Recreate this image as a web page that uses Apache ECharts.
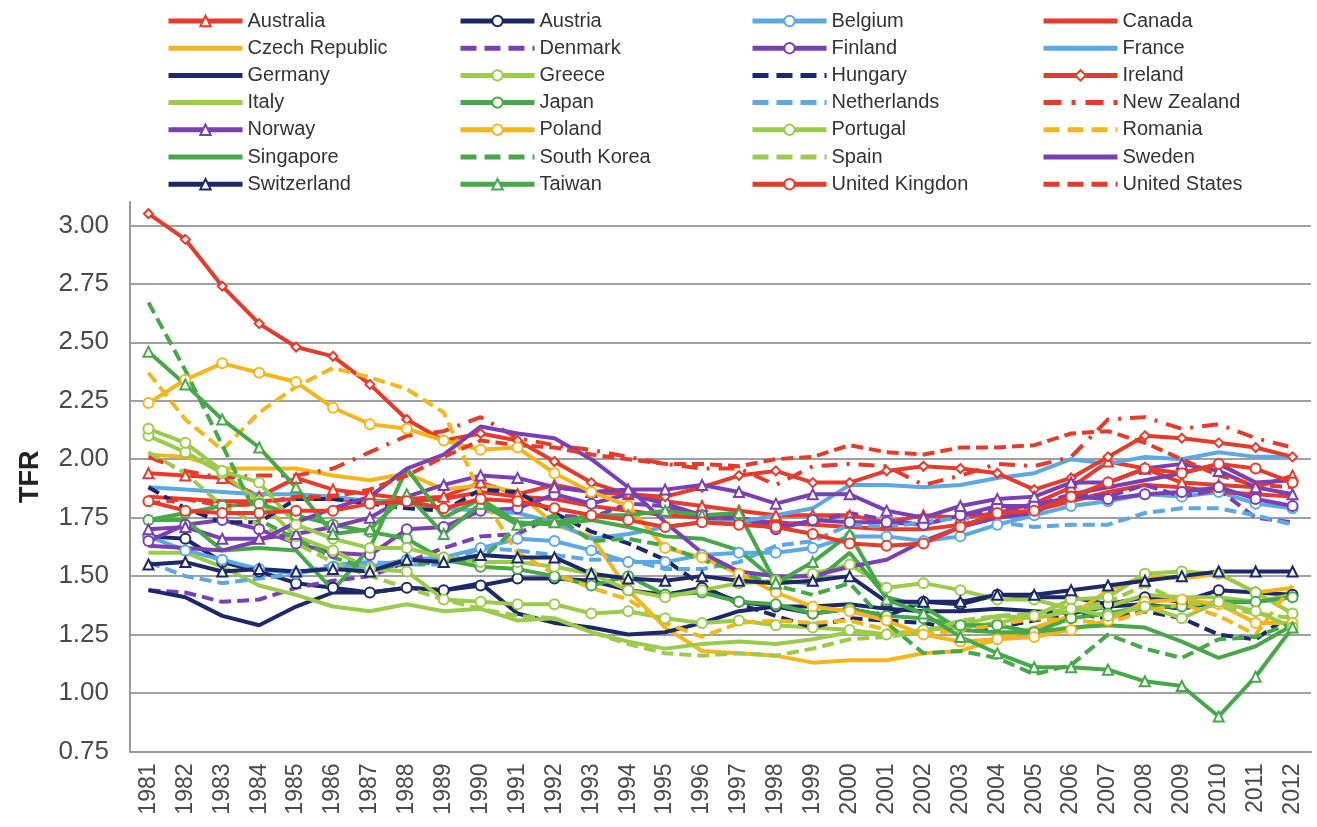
<!DOCTYPE html>
<html><head><meta charset="utf-8">
<script src="https://cdn.jsdelivr.net/npm/echarts@6/dist/echarts.min.js"></script>
<style>html,body{margin:0;padding:0;background:#fff}#c{width:1317px;height:827px}</style>
</head><body><div id="c"></div>
<script>
const years = ['1981','1982','1983','1984','1985','1986','1987','1988','1989','1990','1991','1992','1993','1994','1995','1996','1997','1998','1999','2000','2001','2002','2003','2004','2005','2006','2007','2008','2009','2010','2011','2012'];
const yTicks = [0.75,1.00,1.25,1.50,1.75,2.00,2.25,2.50,2.75,3.00];

const australia = [1.94,1.93,1.92,1.84,1.92,1.87,1.85,1.83,1.84,1.90,1.85,1.89,1.86,1.85,1.82,1.80,1.78,1.76,1.76,1.76,1.73,1.76,1.75,1.77,1.81,1.88,1.99,1.96,1.90,1.89,1.88,1.93];
const austria = [1.67,1.66,1.56,1.52,1.47,1.45,1.43,1.45,1.44,1.46,1.49,1.49,1.48,1.44,1.42,1.45,1.39,1.37,1.34,1.36,1.33,1.39,1.38,1.42,1.41,1.41,1.38,1.41,1.39,1.44,1.43,1.42];
const belgium = [1.67,1.61,1.57,1.53,1.51,1.54,1.54,1.57,1.58,1.62,1.66,1.65,1.61,1.56,1.56,1.59,1.60,1.60,1.62,1.67,1.67,1.65,1.67,1.72,1.76,1.80,1.82,1.85,1.84,1.86,1.81,1.79];
const canada = [1.84,1.83,1.82,1.82,1.83,1.83,1.82,1.82,1.83,1.86,1.84,1.83,1.80,1.78,1.76,1.75,1.74,1.73,1.72,1.71,1.70,1.70,1.72,1.75,1.78,1.82,1.86,1.89,1.88,1.86,1.85,1.84];
const czech = [2.02,2.01,1.96,1.96,1.96,1.93,1.91,1.94,1.87,1.89,1.86,1.72,1.67,1.44,1.28,1.18,1.17,1.16,1.13,1.14,1.14,1.17,1.18,1.23,1.28,1.33,1.44,1.50,1.49,1.51,1.43,1.45];
const denmark = [1.44,1.43,1.39,1.40,1.45,1.48,1.50,1.56,1.62,1.67,1.68,1.76,1.75,1.81,1.80,1.75,1.75,1.72,1.73,1.77,1.74,1.72,1.76,1.78,1.80,1.85,1.84,1.89,1.84,1.87,1.75,1.73];
const finland = [1.65,1.72,1.74,1.70,1.64,1.60,1.59,1.70,1.71,1.78,1.79,1.85,1.81,1.85,1.81,1.76,1.75,1.70,1.74,1.73,1.73,1.72,1.76,1.80,1.80,1.84,1.83,1.85,1.86,1.88,1.83,1.80];
const france = [1.88,1.87,1.86,1.85,1.85,1.84,1.82,1.81,1.79,1.78,1.77,1.73,1.66,1.68,1.71,1.73,1.73,1.76,1.79,1.89,1.89,1.88,1.89,1.92,1.94,2.00,1.98,2.01,2.00,2.03,2.01,2.01];
const germany = [1.44,1.41,1.33,1.29,1.37,1.43,1.43,1.45,1.44,1.47,1.34,1.30,1.28,1.25,1.26,1.30,1.35,1.37,1.37,1.38,1.36,1.35,1.35,1.36,1.35,1.34,1.37,1.38,1.36,1.39,1.39,1.41];
const greece = [2.10,2.03,1.94,1.82,1.67,1.61,1.53,1.52,1.40,1.39,1.38,1.38,1.34,1.35,1.32,1.30,1.31,1.29,1.28,1.27,1.25,1.27,1.28,1.30,1.33,1.40,1.41,1.51,1.52,1.51,1.43,1.34];
const hungary = [1.88,1.79,1.73,1.73,1.83,1.83,1.81,1.79,1.78,1.87,1.86,1.77,1.69,1.64,1.57,1.46,1.38,1.33,1.28,1.32,1.31,1.30,1.27,1.28,1.31,1.34,1.32,1.35,1.32,1.25,1.23,1.34];
const ireland = [3.05,2.94,2.74,2.58,2.48,2.44,2.32,2.17,2.08,2.11,2.08,1.99,1.90,1.85,1.84,1.88,1.93,1.95,1.90,1.90,1.95,1.97,1.96,1.94,1.87,1.92,2.01,2.10,2.09,2.07,2.05,2.01];
const italy = [1.60,1.60,1.54,1.46,1.42,1.37,1.35,1.38,1.35,1.36,1.31,1.32,1.26,1.22,1.19,1.21,1.22,1.21,1.23,1.26,1.25,1.27,1.29,1.33,1.32,1.35,1.37,1.42,1.41,1.41,1.39,1.42];
const japan = [1.74,1.77,1.80,1.81,1.76,1.72,1.69,1.66,1.57,1.54,1.53,1.50,1.46,1.50,1.42,1.43,1.39,1.38,1.34,1.36,1.33,1.32,1.29,1.29,1.26,1.32,1.34,1.37,1.37,1.39,1.39,1.41];
const netherlands = [1.56,1.50,1.47,1.49,1.51,1.55,1.56,1.55,1.55,1.62,1.61,1.59,1.57,1.57,1.53,1.53,1.56,1.63,1.65,1.72,1.71,1.73,1.75,1.73,1.71,1.72,1.72,1.77,1.79,1.79,1.76,1.72];
const newZealand = [2.01,1.95,1.92,1.93,1.93,1.96,2.03,2.10,2.12,2.18,2.09,2.06,2.04,2.01,1.98,1.96,1.96,1.89,1.97,1.98,1.97,1.89,1.93,1.98,1.97,2.01,2.17,2.18,2.13,2.15,2.09,2.05];
const norway = [1.70,1.71,1.66,1.66,1.68,1.71,1.75,1.84,1.89,1.93,1.92,1.88,1.86,1.87,1.87,1.89,1.86,1.81,1.85,1.85,1.78,1.75,1.80,1.83,1.84,1.90,1.90,1.96,1.98,1.95,1.88,1.85];
const poland = [2.24,2.34,2.41,2.37,2.33,2.22,2.15,2.13,2.08,2.04,2.05,1.94,1.86,1.80,1.62,1.58,1.51,1.43,1.37,1.35,1.31,1.25,1.22,1.23,1.24,1.27,1.31,1.39,1.40,1.38,1.30,1.30];
const portugal = [2.13,2.07,1.95,1.90,1.72,1.66,1.62,1.62,1.58,1.56,1.56,1.54,1.51,1.44,1.41,1.44,1.47,1.48,1.51,1.55,1.45,1.47,1.44,1.40,1.40,1.36,1.33,1.37,1.32,1.39,1.35,1.28];
const romania = [2.37,2.17,2.04,2.20,2.31,2.39,2.35,2.30,2.20,1.85,1.60,1.51,1.45,1.40,1.30,1.24,1.30,1.31,1.30,1.31,1.27,1.25,1.27,1.29,1.32,1.31,1.30,1.35,1.38,1.33,1.25,1.46];
const singapore = [1.74,1.74,1.61,1.62,1.61,1.44,1.62,1.96,1.75,1.83,1.73,1.72,1.74,1.71,1.67,1.66,1.61,1.48,1.47,1.60,1.41,1.37,1.27,1.26,1.26,1.28,1.29,1.28,1.22,1.15,1.20,1.29];
const southKorea = [2.67,2.38,2.06,1.74,1.66,1.58,1.53,1.55,1.56,1.57,1.71,1.76,1.65,1.66,1.63,1.57,1.52,1.46,1.42,1.47,1.30,1.17,1.18,1.15,1.08,1.12,1.25,1.19,1.15,1.23,1.24,1.30];
const spain = [2.03,1.94,1.80,1.72,1.64,1.56,1.50,1.45,1.40,1.36,1.33,1.32,1.26,1.21,1.17,1.16,1.17,1.16,1.19,1.23,1.24,1.26,1.31,1.33,1.34,1.36,1.39,1.46,1.39,1.37,1.34,1.32];
const sweden = [1.63,1.62,1.61,1.65,1.73,1.79,1.84,1.96,2.02,2.14,2.11,2.09,2.00,1.88,1.73,1.60,1.52,1.50,1.50,1.54,1.57,1.65,1.71,1.75,1.77,1.85,1.88,1.91,1.94,1.98,1.90,1.91];
const switzerland = [1.55,1.56,1.52,1.53,1.52,1.53,1.52,1.57,1.56,1.59,1.58,1.58,1.51,1.49,1.48,1.50,1.48,1.47,1.48,1.50,1.39,1.39,1.39,1.42,1.42,1.44,1.46,1.48,1.50,1.52,1.52,1.52];
const taiwan = [2.46,2.32,2.17,2.05,1.88,1.68,1.70,1.85,1.68,1.81,1.72,1.73,1.76,1.76,1.78,1.76,1.77,1.47,1.56,1.68,1.40,1.34,1.24,1.17,1.11,1.11,1.10,1.05,1.03,0.90,1.07,1.28];
const unitedKingdom = [1.82,1.78,1.77,1.77,1.78,1.78,1.81,1.82,1.79,1.83,1.82,1.79,1.76,1.74,1.71,1.73,1.72,1.71,1.68,1.64,1.63,1.64,1.71,1.77,1.78,1.84,1.90,1.96,1.94,1.98,1.96,1.90];
const unitedStates = [1.81,1.83,1.80,1.81,1.84,1.84,1.87,1.93,2.01,2.08,2.06,2.05,2.02,2.00,1.98,1.98,1.97,2.00,2.01,2.06,2.03,2.02,2.05,2.05,2.06,2.11,2.12,2.07,2.00,1.93,1.89,1.88];

const C = {red:'#E63B2B', navy:'#1D2868', lblue:'#5BA8E3', yellow:'#F4B61C', purple:'#7A3FB3', lgreen:'#9CCB4B', green:'#47A84A'};
const DASH = [12,6], DASHDOT = [16,9,3,9];
const LEG_DASH = [16,8], LEG_DASHDOT = [18,10,4,10];

const defs = [
  ['Australia', australia, 'red', 'solid', 'triangle'],
  ['Austria', austria, 'navy', 'solid', 'circle'],
  ['Belgium', belgium, 'lblue', 'solid', 'circle'],
  ['Canada', canada, 'red', 'solid', 'none'],
  ['Czech Republic', czech, 'yellow', 'solid', 'none'],
  ['Denmark', denmark, 'purple', 'dash', 'none'],
  ['Finland', finland, 'purple', 'solid', 'circle'],
  ['France', france, 'lblue', 'solid', 'none'],
  ['Germany', germany, 'navy', 'solid', 'none'],
  ['Greece', greece, 'lgreen', 'solid', 'circle'],
  ['Hungary', hungary, 'navy', 'dash', 'none'],
  ['Ireland', ireland, 'red', 'solid', 'diamond'],
  ['Italy', italy, 'lgreen', 'solid', 'none'],
  ['Japan', japan, 'green', 'solid', 'circle'],
  ['Netherlands', netherlands, 'lblue', 'dash', 'none'],
  ['New Zealand', newZealand, 'red', 'dashdot', 'none'],
  ['Norway', norway, 'purple', 'solid', 'triangle'],
  ['Poland', poland, 'yellow', 'solid', 'circle'],
  ['Portugal', portugal, 'lgreen', 'solid', 'circle'],
  ['Romania', romania, 'yellow', 'dash', 'none'],
  ['Singapore', singapore, 'green', 'solid', 'none'],
  ['South Korea', southKorea, 'green', 'dash', 'none'],
  ['Spain', spain, 'lgreen', 'dash', 'none'],
  ['Sweden', sweden, 'purple', 'solid', 'none'],
  ['Switzerland', switzerland, 'navy', 'solid', 'triangle'],
  ['Taiwan', taiwan, 'green', 'solid', 'triangle'],
  ['United Kingdon', unitedKingdom, 'red', 'solid', 'circle'],
  ['United States', unitedStates, 'red', 'dash', 'none']
];

const series = defs.map(([name, data, col, dash, sym]) => ({
  name, type: 'line', data,
  symbol: sym,
  symbolSize: sym === 'diamond' ? 9 : 10,
  showSymbol: sym !== 'none',
  lineStyle: {color: C[col], width: 4, type: dash === 'dash' ? DASH : (dash === 'dashdot' ? DASHDOT : 'solid')},
  itemStyle: {color: '#fff', borderColor: C[col], borderWidth: 2},
  emphasis: {disabled: true},
  animation: false
}));

const legendItems = defs.map(([name, data, col, dash, sym]) => {
  const it = {name, lineStyle: {width: 5, color: C[col], type: dash === 'dash' ? LEG_DASH : (dash === 'dashdot' ? LEG_DASHDOT : 'solid')}};
  if (sym === 'none') it.itemStyle = {opacity: 0, borderWidth: 0};
  else it.itemStyle = {color: '#fff', borderColor: C[col], borderWidth: 2};
  return it;
});
const cols = [0,1,2,3].map(c => legendItems.filter((n, i) => i % 4 === c));
const legendLeft = [161, 453, 745, 1036];
const legends = cols.map((list, c) => ({
  data: list, orient: 'vertical', left: legendLeft[c], top: 6,
  itemWidth: 74, itemHeight: 13, itemGap: 7.2,
  selectedMode: false,
  textStyle: {fontFamily: 'Liberation Sans, Arial, sans-serif', fontSize: 20, color: '#333', lineHeight: 20}
}));

const chart = echarts.init(document.getElementById('c'), null, {renderer: 'canvas'});
chart.setOption({
  animation: false,
  legend: legends,
  grid: {left: 130, right: 6, top: 202, bottom: 75.5, containLabel: false},
  xAxis: {
    type: 'category', data: years, boundaryGap: true,
    axisLine: {lineStyle: {color: '#9a9a9a', width: 2}},
    axisTick: {show: false},
    axisLabel: {rotate: 90, interval: 0, margin: 12, fontSize: 23, color: '#4a4a4a', fontFamily: 'Liberation Sans, Arial, sans-serif'}
  },
  yAxis: {
    type: 'value', min: yTicks[0], max: 3.1, interval: 0.25,
    name: 'TFR', nameLocation: 'middle', nameGap: 86, nameRotate: 90,
    nameTextStyle: {fontSize: 27, fontWeight: 'bold', color: '#222', fontFamily: 'Liberation Sans, Arial, sans-serif'},
    axisLine: {show: true, lineStyle: {color: '#9a9a9a', width: 2}},
    axisTick: {show: false},
    splitLine: {show: true, showMaxLine: false, lineStyle: {color: '#a0a0a0', width: 2}},
    axisLabel: {showMaxLabel: false, margin: 21, fontSize: 26, color: '#4a4a4a', fontFamily: 'Liberation Sans, Arial, sans-serif',
      formatter: v => v.toFixed(2)}
  },
  series
});
</script></body></html>
